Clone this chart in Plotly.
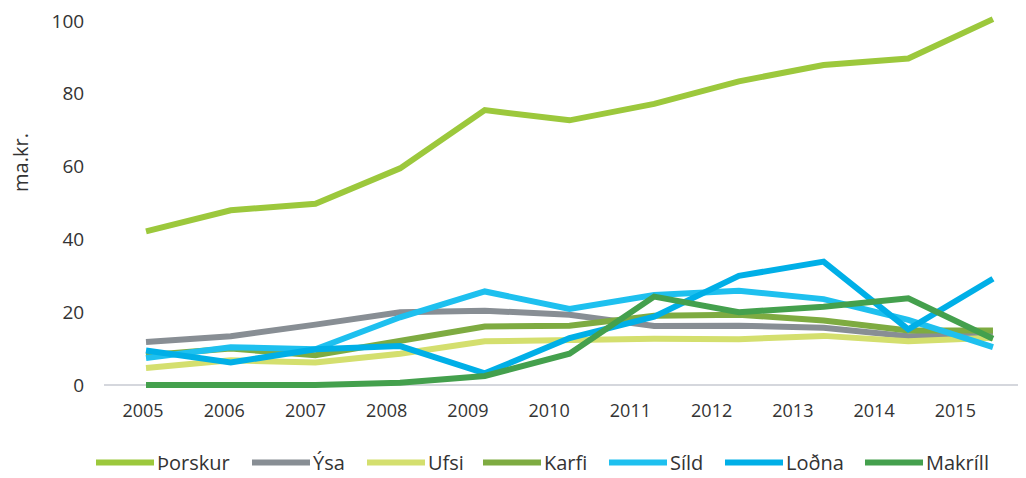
import plotly.graph_objects as go

years = [2005, 2006, 2007, 2008, 2009, 2010, 2011, 2012, 2013, 2014, 2015]
year_labels = [str(y) for y in years]

thorskur = [42.2, 48.0, 49.8, 59.5, 75.5, 72.7, 77.2, 83.4, 87.9, 89.7, 100.5]
ysa      = [11.8, 13.4, 16.6, 20.0, 20.4, 19.3, 16.2, 16.3, 15.7, 13.4, 14.0]
ufsi     = [4.7, 6.8, 6.2, 8.6, 12.0, 12.4, 12.7, 12.6, 13.5, 12.0, 13.0]
karfi    = [8.2, 10.0, 8.2, 12.0, 16.1, 16.3, 19.0, 19.3, 17.7, 15.0, 15.0]
sild     = [7.4, 10.4, 9.8, 18.6, 25.7, 20.9, 24.7, 25.9, 23.6, 17.9, 10.4]
lodna    = [9.5, 6.2, 9.8, 10.7, 3.2, 12.9, 18.8, 30.0, 33.9, 15.3, 29.2]
makrill  = [0.0, 0.0, 0.0, 0.6, 2.5, 8.6, 24.3, 20.0, 21.5, 23.8, 12.7]

names = ["Þorskur", "Ýsa", "Ufsi", "Karfi", "Síld", "Loðna", "Makríll"]
series = [thorskur, ysa, ufsi, karfi, sild, lodna, makrill]
colors = ["#9cc83c", "#888e94", "#d4df6e", "#7eab41", "#1ec0ef", "#00afe7", "#44a04d"]

FONT = "Open Sans"
TXT = "#333333"

# page has an 8px body margin: the figure is placed at (8, 8)
OFF = 8
W, H = 1026 - OFF, 478 - OFF
L, R, T, B = 104 - OFF, 0, 0, 88
PW, PH = W - L - R, H - T - B

def px_x(px):  # page pixel -> paper x
    return (px - OFF - L) / PW

def px_y(py):  # page pixel -> paper y
    return (H - B - (py - OFF)) / PH

fig = go.Figure()
for name, vals, col in zip(names, series, colors):
    fig.add_trace(go.Scatter(
        x=years, y=vals, name=name, mode="lines",
        line=dict(color=col, width=6), showlegend=False,
        hoverinfo="x+y+name"))

# invisible trace to host the label axis
fig.add_trace(go.Scatter(x=years, y=[None] * len(years), xaxis="x2",
                         showlegend=False, hoverinfo="skip"))

# custom legend
leg_starts = [96, 252, 367, 483, 609, 725, 865]
sample_len = 58
leg_y = 463
shapes = []
annotations = []
for name, col, x0 in zip(names, colors, leg_starts):
    shapes.append(dict(type="line", xref="paper", yref="paper",
                       x0=px_x(x0), x1=px_x(x0 + sample_len),
                       y0=px_y(leg_y), y1=px_y(leg_y),
                       line=dict(color=col, width=6)))
    annotations.append(dict(xref="paper", yref="paper",
                            x=px_x(x0 + sample_len + 1), y=px_y(leg_y),
                            xanchor="left", yanchor="middle", showarrow=False,
                            text=name, font=dict(family=FONT, size=20, color=TXT)))

annotations.append(dict(xref="paper", yref="y", x=px_x(20), y=61,
                        text="ma.kr.", textangle=-90, showarrow=False,
                        xanchor="center", yanchor="middle",
                        height=20, borderpad=0,
                        font=dict(family=FONT, size=20, color=TXT)))

# y scale: value 0 at page y 385, 3.67 px per unit
y_lo = -(390 - 385) / 3.67
y_hi = (385 - OFF) / 3.67

fig.update_layout(
    width=W, height=H,
    margin=dict(l=L, r=R, t=T, b=B, pad=0),
    paper_bgcolor="white", plot_bgcolor="white",
    showlegend=False,
    shapes=shapes, annotations=annotations,
    xaxis=dict(range=[2005 - 0.496, 2015 + 0.39], showticklabels=False,
               showgrid=False, zeroline=False, showline=False, ticks=""),
    xaxis2=dict(overlaying="x", side="bottom", anchor="y",
                range=[2005 - 0.48, 2005 + 10.87],
                tickvals=years, ticktext=year_labels,
                showgrid=False, zeroline=False, showline=False,
                ticks="outside", ticklen=4, tickcolor="rgba(0,0,0,0)",
                tickfont=dict(family=FONT, size=18, color=TXT)),
    yaxis=dict(range=[y_lo, y_hi], tickvals=[0, 20, 40, 60, 80, 100],
               showgrid=False, zeroline=True, zerolinecolor="#d5d7dd",
               zerolinewidth=2, showline=False,
               ticks="outside", ticklen=15, tickcolor="rgba(0,0,0,0)",
               ticklabeloverflow="allow",
               tickfont=dict(family=FONT, size=19, color=TXT)),
)

fig.write_html("out.html")
